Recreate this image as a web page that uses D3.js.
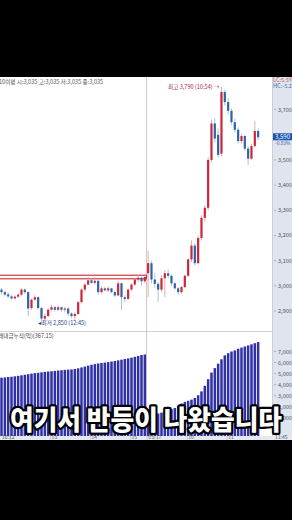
<!DOCTYPE html>
<html><head><meta charset="utf-8">
<script src="https://cdn.jsdelivr.net/npm/d3@7"></script>
<style>html,body{margin:0;padding:0;background:#000;overflow:hidden}svg{display:block}</style>
</head><body><svg id="c" width="292" height="520"></svg>
<script>
// ---- data ----
const openP = [2985,2975,2966,2958,2950,2957,2965,2985,2975,2912,2945,2955,2912,2870,2880,2905,2915,2905,2915,2905,2910,2890,2880,2888,2935,2985,3005,3022,3012,3020,2975,2990,2982,2990,2975,2962,3010,2955,2948,2985,3005,3025,3032,3018,
 3050,3090,3025,3008,2985,3030,3050,3040,3010,2990,2975,2995,3040,3105,3160,3090,3190,3270,3310,3500,3645,3600,3525,3770,3730,3695,3650,3620,3575,3595,3545,3505,3555,3615];
const highP = [2992,2982,2975,2965,2962,2970,2992,2990,2978,2950,2962,2958,2915,2890,2912,2925,2920,2922,2918,2915,2915,2895,2895,2940,2990,3010,3035,3030,3035,3022,2998,2995,2998,2992,2980,3020,3012,2962,2990,3010,3030,3042,3036,3040,
 3140,3100,3050,3015,3042,3062,3065,3045,3015,2995,3000,3045,3110,3180,3170,3200,3280,3320,3510,3660,3665,3625,3790,3780,3745,3705,3665,3630,3605,3600,3555,3565,3655,3625];
const lowP = [2965,2958,2950,2945,2945,2952,2960,2968,2880,2905,2940,2905,2850,2860,2875,2898,2898,2900,2898,2895,2880,2872,2865,2885,2930,2975,3000,3008,3005,2965,2970,2978,2975,2970,2955,2958,2905,2935,2945,2980,3000,3015,3000,3012,
 2955,3010,2992,2935,2975,2955,3030,3000,2985,2965,2968,2990,3035,3095,3080,3085,3180,3255,3300,3490,3570,3510,3515,3715,3680,3640,3610,3565,3565,3535,3480,3500,3550,3580];
const closeP = [2975,2965,2958,2950,2957,2965,2985,2975,2910,2945,2955,2912,2870,2880,2905,2915,2905,2915,2905,2910,2890,2880,2888,2935,2985,3005,3022,3012,3020,2975,2990,2982,2990,2975,2962,3010,2955,2948,2985,3005,3025,3032,3018,3035,
 3090,3025,3008,2985,3030,3050,3040,3010,2990,2975,2995,3040,3105,3160,3090,3190,3270,3310,3500,3645,3585,3520,3770,3730,3695,3650,3620,3575,3595,3545,3505,3555,3615,3590];
const volumeCum = [4640,4660,4700,4720,4760,4800,4850,4900,4950,5000,5050,5080,5120,5160,5190,5220,5250,5280,5310,5340,5360,5380,5420,5480,5560,5640,5720,5800,5860,5920,5960,6000,6040,6090,6140,6200,6260,6320,6380,6440,6520,6600,6680,6730,
 1100,1200,1300,1400,1480,1600,1700,1800,1900,2100,2300,2450,2550,2650,2800,3050,3400,3900,4500,5100,5500,5900,6300,6650,6850,7000,7100,7250,7350,7450,7550,7650,7750,7850];
const priceTicks = [2900,3000,3100,3200,3300,3400,3500,3700];
const volumeTicks = [1000,2000,3000,4000,5000,6000,7000];
const timeLabels = ["16:12","13","14","15","03/17","10","11"];
const timeSlots = [3,15,27,39,44,56,68];
const dayBreakSlot = 43.5;
const refLevel = 3035;
const lastPrice = 3590;
const highIdx = 66, lowIdx = 12;

// ---- layout ----
const svg = d3.select("#c");
const W = 292, topY = 77, bottomY = 440, plotR = 272;
const F = "'Noto Sans CJK KR','Noto Sans',sans-serif";
svg.append("rect").attr("x",0).attr("y",0).attr("width",W).attr("height",520).attr("fill","#000");
svg.append("rect").attr("x",0).attr("y",topY).attr("width",W).attr("height",bottomY-topY).attr("fill","#fff");
svg.append("rect").attr("x",plotR).attr("y",topY).attr("width",W-plotR).attr("height",bottomY-topY).attr("fill","#dfe4ee");
svg.append("line").attr("x1",plotR+0.5).attr("x2",plotR+0.5).attr("y1",topY).attr("y2",bottomY).attr("stroke","#b9c0cc").attr("stroke-width",0.6);

const x = d3.scaleLinear().domain([0,77]).range([1.5, 1.5+77*3.333]);
const y = d3.scaleLinear().domain([2900,3700]).range([311,109.6]);
const yv = d3.scaleLinear().domain([3000,7000]).range([395.8,351.5]);
const volBase = 436;

const defs = svg.append("defs");
defs.append("clipPath").attr("id","pc").append("rect").attr("x",0).attr("y",topY).attr("width",plotR).attr("height",bottomY-topY);
const g = svg.append("g").attr("clip-path","url(#pc)");

// panel separator
g.append("line").attr("x1",0).attr("x2",plotR).attr("y1",331.5).attr("y2",331.5).attr("stroke","#cdb9b9").attr("stroke-width",0.7);
// day break
g.append("line").attr("x1",x(dayBreakSlot)).attr("x2",x(dayBreakSlot)).attr("y1",topY).attr("y2",volBase).attr("stroke","#c9a9a9").attr("stroke-width",0.7);

// reference level (double red line)
g.append("rect").attr("x",-2).attr("y",y(refLevel)-1.8).attr("width",x(dayBreakSlot)+2).attr("height",3.6)
 .attr("fill","none").attr("stroke","#d2252f").attr("stroke-width",1.1);

// volume bars
const idx = d3.range(closeP.length);
g.selectAll(".vb").data(idx).join("rect")
 .attr("x",i=>x(i)-1.25).attr("width",2.5)
 .attr("y",i=>yv(volumeCum[i])).attr("height",i=>volBase-yv(volumeCum[i]))
 .attr("fill","#3131a6");

// candles
const up = i=>closeP[i]>=openP[i];
g.selectAll(".wk").data(idx).join("line")
 .attr("x1",i=>x(i)).attr("x2",i=>x(i)).attr("y1",i=>y(highP[i])).attr("y2",i=>y(lowP[i]))
 .attr("stroke",i=>up(i)?"#dca3ab":"#a9b9d3").attr("stroke-width",0.9);
g.selectAll(".bd").data(idx).join("rect")
 .attr("x",i=>x(i)-1.1).attr("width",2.2)
 .attr("y",i=>y(Math.max(openP[i],closeP[i])))
 .attr("height",i=>Math.max(1,Math.abs(y(openP[i])-y(closeP[i]))))
 .attr("fill",i=>up(i)?"#c8283a":"#2c63ad");

// legend text
g.append("text").attr("x",-1).attr("y",84).attr("font-family",F).attr("font-size",5.6).attr("fill","#555")
 .text("10이평 시:3,035 고:3,035 저:3,035 종:3,035");
g.append("text").attr("x",-7).attr("y",338).attr("font-family",F).attr("font-size",5.6).attr("fill","#444")
 .text("거래대금누적(억)(367.15)");

// high / low annotations
g.append("text").attr("x",x(highIdx)-2).attr("y",y(highP[highIdx])+2).attr("text-anchor","end")
 .attr("font-family",F).attr("font-size",5.6).attr("fill","#a3283a").text("최고 3,790 (10:54) →");
g.append("text").attr("x",x(lowIdx)-3).attr("y",y(lowP[lowIdx])+1).attr("text-anchor","start")
 .attr("font-family",F).attr("font-size",5.6).attr("fill","#24408a").text("◂최저 2,850 (12:45)");

// right price axis
const ax = svg.append("g").attr("font-family",F).attr("font-size",5.6).attr("fill","#555");
priceTicks.forEach(v=>{
  ax.append("line").attr("x1",plotR+2).attr("x2",plotR+4).attr("y1",y(v)).attr("y2",y(v)).attr("stroke","#777").attr("stroke-width",0.5);
  ax.append("text").attr("x",plotR+6).attr("y",y(v)+2).text(d3.format(",")(v));
});
volumeTicks.forEach(v=>{
  ax.append("line").attr("x1",plotR+2).attr("x2",plotR+4).attr("y1",yv(v)).attr("y2",yv(v)).attr("stroke","#777").attr("stroke-width",0.5);
  ax.append("text").attr("x",plotR+6).attr("y",yv(v)+2).text(d3.format(",")(v));
});
ax.append("text").attr("x",plotR+1).attr("y",82).attr("fill","#c0606a").text("LC:5.5%");
ax.append("text").attr("x",plotR+1).attr("y",88).attr("fill","#4a6fb0").text("HC:-5.2%");
ax.append("rect").attr("x",plotR+1).attr("y",y(lastPrice)-4).attr("width",W-plotR-1).attr("height",7).attr("fill","#1d55a8");
ax.append("text").attr("x",plotR+3).attr("y",y(lastPrice)+2).attr("fill","#fff").attr("font-size",6).text("3,590");
ax.append("text").attr("x",plotR+3).attr("y",y(lastPrice)+7.5).attr("fill","#2c63ad").attr("font-size",4.8).text("-0.83%");

// bottom time axis
svg.append("rect").attr("x",0).attr("y",volBase).attr("width",W).attr("height",bottomY-volBase).attr("fill","#e4e8f0");
const tx = svg.append("g").attr("font-family",F).attr("font-size",5).attr("fill","#555");
timeLabels.forEach((t,k)=>{
  const px = x(timeSlots[k]);
  tx.append("line").attr("x1",px-1).attr("x2",px-1).attr("y1",volBase).attr("y2",bottomY).attr("stroke","#aab").attr("stroke-width",0.5);
  tx.append("text").attr("x",k===0?px+3:px).attr("y",bottomY-0.6).attr("text-anchor",k===0?"end":"start").text(t);
});
tx.append("text").attr("x",plotR+3).attr("y",bottomY-0.6).text("11:45");

// subtitle
svg.append("text").attr("x",W/2).attr("y",430).attr("text-anchor","middle")
 .attr("font-family",F).attr("font-weight",900).attr("font-size",27)
 .attr("textLength",272).attr("lengthAdjust","spacingAndGlyphs")
 .attr("fill","#fff").attr("stroke","#000").attr("stroke-width",4.5).attr("stroke-linejoin","round")
 .attr("paint-order","stroke").text("여기서 반등이 나왔습니다");
</script></body></html>
